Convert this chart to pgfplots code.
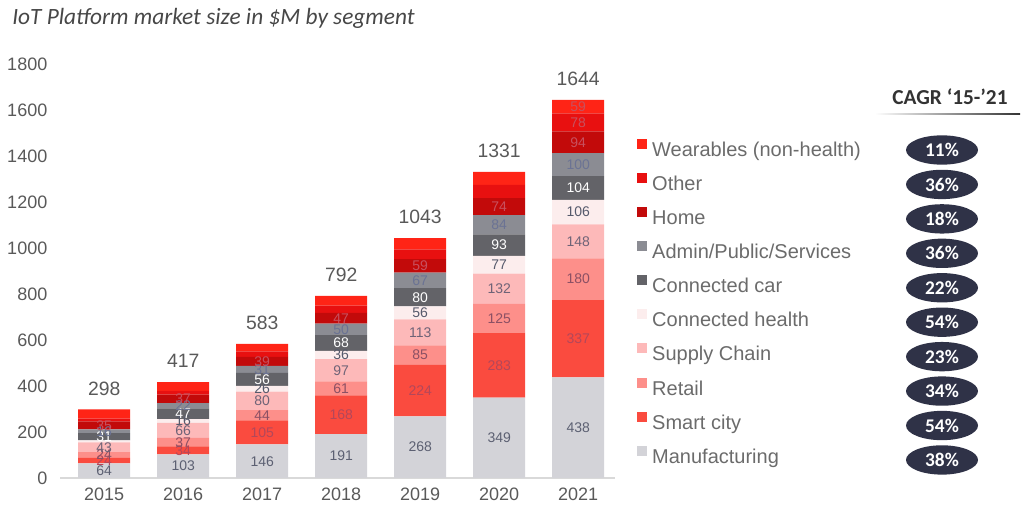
\documentclass[border=0pt]{standalone}
\usepackage{fontspec}
\setmainfont{Liberation Sans}
\newfontfamily\carlito{Carlito}
\usepackage{pgfplots}
\pgfplotsset{compat=1.18}
\usetikzlibrary{shapes.geometric}
\definecolor{cManu}{HTML}{D3D3D8}
\definecolor{cSmart}{HTML}{FA4B3F}
\definecolor{cRetail}{HTML}{FD8F8A}
\definecolor{cSupply}{HTML}{FDB9B9}
\definecolor{cHealth}{HTML}{FCEDED}
\definecolor{cCar}{HTML}{636368}
\definecolor{cAdmin}{HTML}{8B8C93}
\definecolor{cHome}{HTML}{C20A0A}
\definecolor{cOther}{HTML}{E81010}
\definecolor{cWear}{HTML}{FF2416}
\definecolor{tickgray}{HTML}{595959}
\definecolor{leggray}{HTML}{6B6B6B}
\definecolor{axgray}{HTML}{D9D9D9}
\definecolor{navy}{HTML}{2F3247}
\definecolor{headgray}{HTML}{333333}
\definecolor{lManu}{HTML}{5C6072}
\definecolor{lSmart}{HTML}{B3475A}
\definecolor{lRetail}{HTML}{8C5064}
\definecolor{lSupply}{HTML}{6F6377}
\definecolor{lHealth}{HTML}{565A6C}
\definecolor{lAdmin}{HTML}{6B7394}
\definecolor{lHome}{HTML}{C8505E}
\begin{document}
\begin{tikzpicture}[x=1pt,y=1pt]
\useasboundingbox (0,0) rectangle (768,390.75);
\pgfplotsset{
  common/.style={
    at={(45pt,32.25pt)}, anchor=south west,
    scale only axis, width=416.5pt, height=310.5pt,
    xmin=-0.56, xmax=6.47, ymin=0, ymax=1800,
  },
  lab/.style={draw=none, mark=none, nodes near coords, point meta=explicit symbolic,
    every node near coord/.append style={anchor=center, inner sep=0pt,
      font=\fontsize{10.5}{12}\selectfont, text=#1}},
}
\begin{axis}[
  common,
  ybar stacked, bar width=39pt,
  xtick={0,...,6}, xticklabels={2015,2016,2017,2018,2019,2020,2021},
  ytick={0,200,...,1800},
  axis x line*=bottom, axis y line*=left,
  x axis line style={-, draw=axgray, line width=1pt},
  y axis line style={draw=none},
  major tick length=0pt, tick style={draw=none},
  /pgf/number format/assume math mode=true,
  /pgf/number format/1000 sep={},
  ticklabel style={font=\fontsize{13.5}{16}\selectfont, text=tickgray},
  yticklabel style={xshift=-6pt},
  xticklabel style={yshift=-4pt},
  reverse legend,
  legend cell align=left,
  legend image code/.code={\fill[#1,draw=none] (0pt,1.6pt) rectangle (7.5pt,9.1pt);},
  legend style={at={(axis description cs:1.0389,0.4227)}, anchor=west,
    draw=none, fill=none, inner sep=0pt,
    font=\fontsize{15}{18}\selectfont, text=leggray,
    nodes={inner sep=0pt, text height=11pt, text depth=3pt},
    row sep=9.5pt,
    /tikz/every odd column/.append style={column sep=3.75pt}},
]
\addplot[fill=cManu, draw=none] coordinates {(0,64) (1,103) (2,146) (3,191) (4,268) (5,349) (6,438)};
\addlegendentry{Manufacturing}
\addplot[fill=cSmart, draw=none] coordinates {(0,24) (1,34) (2,105) (3,168) (4,224) (5,283) (6,337)};
\addlegendentry{Smart city}
\addplot[fill=cRetail, draw=none] coordinates {(0,24) (1,37) (2,44) (3,61) (4,85) (5,125) (6,180)};
\addlegendentry{Retail}
\addplot[fill=cSupply, draw=none] coordinates {(0,43) (1,66) (2,80) (3,97) (4,113) (5,132) (6,148)};
\addlegendentry{Supply Chain}
\addplot[fill=cHealth, draw=none] coordinates {(0,9) (1,16) (2,26) (3,36) (4,56) (5,77) (6,106)};
\addlegendentry{Connected health}
\addplot[fill=cCar, draw=none] coordinates {(0,31) (1,47) (2,56) (3,68) (4,80) (5,93) (6,104)};
\addlegendentry{Connected car}
\addplot[fill=cAdmin, draw=none] coordinates {(0,16) (1,22) (2,31) (3,50) (4,67) (5,84) (6,100)};
\addlegendentry{Admin/Public/Services}
\addplot[fill=cHome, draw=none] coordinates {(0,35) (1,37) (2,39) (3,47) (4,59) (5,74) (6,94)};
\addlegendentry{Home}
\addplot[fill=cOther, draw=none] coordinates {(0,12) (1,17) (2,23) (3,31) (4,42) (5,57) (6,78)};
\addlegendentry{Other}
\addplot[fill=cWear, draw=none] coordinates {(0,40) (1,38) (2,33) (3,43) (4,49) (5,57) (6,59)};
\addlegendentry{Wearables (non-health)}
\end{axis}
\begin{axis}[common, hide axis, clip=false]
\addplot[lab=lManu] table[meta=l] {
x y l
0 32 64
1 51.5 103
2 73 146
3 95.5 191
4 134 268
5 174.5 349
6 219 438
};
\addplot[lab=lSmart] table[meta=l] {
x y l
0 76 24
1 120 34
2 198.5 105
3 275 168
4 380 224
5 490.5 283
6 606.5 337
};
\addplot[lab=lRetail] table[meta=l] {
x y l
0 100 24
1 155.5 37
2 273 44
3 389.5 61
4 534.5 85
5 694.5 125
6 865 180
};
\addplot[lab=lSupply] table[meta=l] {
x y l
0 133.5 43
1 207 66
2 335 80
3 468.5 97
4 633.5 113
5 823 132
6 1029 148
};
\addplot[lab=lHealth] table[meta=l] {
x y l
1 248 16
2 388 26
3 535 36
4 718 56
5 927.5 77
6 1156 106
};
\addplot[lab=white] table[meta=l] {
x y l
0 179.5 31
1 279.5 47
2 429 56
3 587 68
4 786 80
5 1012.5 93
6 1261 104
};
\addplot[lab=lAdmin] table[meta=l] {
x y l
0 203 16
1 314 22
2 472.5 31
3 646 50
4 859.5 67
5 1101 84
6 1363 100
};
\addplot[lab=lHome] table[meta=l] {
x y l
0 228.5 35
1 343.5 37
2 507.5 39
3 694.5 47
4 922.5 59
5 1180 74
6 1460 94
};
\addplot[lab=lHome] table[meta=l] {
x y l
6 1546 78
6 1614.5 59
};
\addplot[draw=none, mark=none, nodes near coords, point meta=explicit symbolic,
  every node near coord/.append style={anchor=center, inner sep=0pt, yshift=15.75pt,
    font=\fontsize{14.5}{17}\selectfont, text=tickgray}] table[meta=l] {
x y l
0 298 298
1 417 417
2 583 583
3 792 792
4 1043 1043
5 1331 1331
6 1644 1644
};
\end{axis}
\node[anchor=west, inner sep=0pt, font=\carlito\itshape\fontsize{17.5}{20}\selectfont, text=headgray!90] at (9,377.25) {IoT Platform market size in \$M by segment};
\node[font=\carlito\bfseries\fontsize{16}{18}\selectfont, text=headgray] at (712.5,318) {CAGR ‘15-’21};
\shade[left color=white, right color=headgray] (656,304.6) rectangle (765,305.9);
\foreach \v [count=\i from 0] in {11,36,18,36,22,54,23,34,54,38}
  \node[ellipse, fill=navy, minimum width=54pt, minimum height=22pt, inner sep=0pt,
        text=white, font=\carlito\bfseries\fontsize{14.5}{16}\selectfont]
        at (706.5, 278.25-25.83*\i) {\v\%};
\end{tikzpicture}
\end{document}
